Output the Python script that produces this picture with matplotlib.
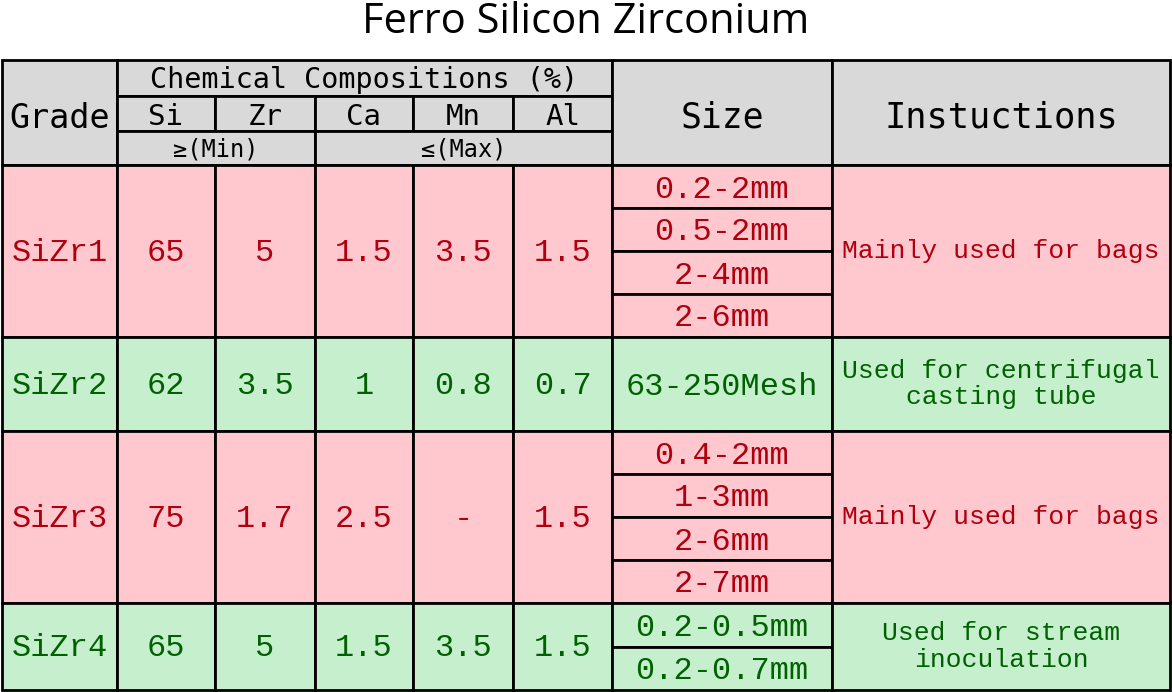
import matplotlib
matplotlib.use("Agg")
import matplotlib.pyplot as plt
from matplotlib.patches import Rectangle

title = "Ferro Silicon Zirconium"
grades = ["SiZr1", "SiZr2", "SiZr3", "SiZr4"]
si = ["65", "62", "75", "65"]
zr = ["5", "3.5", "1.7", "5"]
ca = ["1.5", "1", "2.5", "1.5"]
mn = ["3.5", "0.8", "-", "3.5"]
al = ["1.5", "0.7", "1.5", "1.5"]
sizes = [["0.2-2mm", "0.5-2mm", "2-4mm", "2-6mm"], ["63-250Mesh"],
         ["0.4-2mm", "1-3mm", "2-6mm", "2-7mm"], ["0.2-0.5mm", "0.2-0.7mm"]]
instr = ["Mainly used for bags", "Used for centrifugal\ncasting tube",
         "Mainly used for bags", "Used for stream\ninoculation"]
elem = ["Si", "Zr", "Ca", "Mn", "Al"]

W, H = 1172, 692
fig = plt.figure(figsize=(W/100, H/100), dpi=100)
ax = fig.add_axes([0, 0, 1, 1])
ax.set_xlim(0, W); ax.set_ylim(H, 0); ax.axis("off")

cols = [2, 117, 215, 315, 413, 513, 612, 832, 1170]
rows = [165, 337, 431, 603, 690]
GRAY, PINK, GREEN = "#d9d9d9", "#ffc7ce", "#c6efce"
RED, DGREEN = "#b00010", "#006100"
LW = 2
hf = dict(family="DejaVu Sans Mono", color="black")
df = dict(family="Liberation Mono")

def cell(x0, y0, x1, y1, fc):
    ax.add_patch(Rectangle((x0, y0), x1-x0, y1-y0, fc=fc, ec="black", lw=LW))

ax.text(W/2, 22, title, ha="center", va="center", fontsize=30, family="Open Sans")

cell(cols[0], 60, cols[1], 165, GRAY)
ax.text((cols[0]+cols[1])/2, 118, "Grade", ha="center", va="center", fontsize=24, **hf)
cell(cols[1], 60, cols[6], 96, GRAY)
ax.text((cols[1]+cols[6])/2, 80, "Chemical Compositions (%)", ha="center", va="center", fontsize=20.5, **hf)
for i, e in enumerate(elem):
    cell(cols[1+i], 96, cols[2+i], 131, GRAY)
    ax.text((cols[1+i]+cols[2+i])/2, 117, e, ha="center", va="center", fontsize=21, **hf)
cell(cols[1], 131, cols[3], 165, GRAY)
ax.text((cols[1]+cols[3])/2, 150, "≥(Min)", ha="center", va="center", fontsize=17, **hf)
cell(cols[3], 131, cols[6], 165, GRAY)
ax.text((cols[3]+cols[6])/2, 150, "≤(Max)", ha="center", va="center", fontsize=17, **hf)
cell(cols[6], 60, cols[7], 165, GRAY)
ax.text((cols[6]+cols[7])/2, 117, "Size", ha="center", va="center", fontsize=25, **hf)
cell(cols[7], 60, cols[8], 165, GRAY)
ax.text((cols[7]+cols[8])/2, 117, "Instuctions", ha="center", va="center", fontsize=25.5, **hf)

for r in range(4):
    y0, y1 = rows[r], rows[r+1]
    fc = PINK if r % 2 == 0 else GREEN
    tc = RED if r % 2 == 0 else DGREEN
    ym = (y0 + y1) / 2
    vals = [grades[r], si[r], zr[r], ca[r], mn[r], al[r]]
    for c, v in enumerate(vals):
        cell(cols[c], y0, cols[c+1], y1, fc)
        ax.text((cols[c]+cols[c+1])/2, ym+2, v, ha="center", va="center",
                fontsize=23, color=tc, **df)
    n = len(sizes[r]); h = (y1 - y0) / n
    for k, s in enumerate(sizes[r]):
        cell(cols[6], y0+k*h, cols[7], y0+(k+1)*h, fc)
        ax.text((cols[6]+cols[7])/2, y0+(k+0.5)*h+3, s, ha="center", va="center",
                fontsize=23, color=tc, **df)
    cell(cols[7], y0, cols[8], y1, fc)
    ax.text((cols[7]+cols[8])/2, ym, instr[r], ha="center", va="center",
            fontsize=19, color=tc, linespacing=1.15, **df)

fig.savefig("out.png", dpi=100)
